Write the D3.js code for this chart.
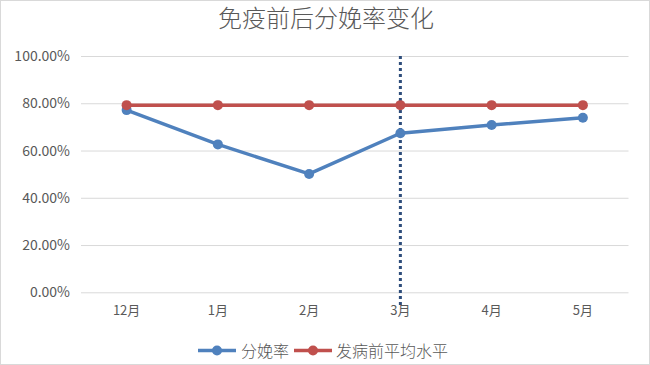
<!DOCTYPE html>
<html><head><meta charset="utf-8">
<script src="https://cdn.jsdelivr.net/npm/d3@7"></script>
<style>body{margin:0;background:#fff;}svg{display:block;}</style>
</head><body><svg id="c" width="650" height="365"></svg>
<script>
const categories = ["12月","1月","2月","3月","4月","5月"];
const birthRate = [0.771, 0.626, 0.501, 0.673, 0.708, 0.739];
const preAverage = [0.792, 0.792, 0.792, 0.792, 0.792, 0.792];
const yTicks = [0, 0.2, 0.4, 0.6, 0.8, 1.0];
const markerCategory = "3月";
const seriesNames = ["分娩率", "发病前平均水平"];
const colors = ["#4F81BD", "#C0504D"];

(function(){
const svg = d3.select("#c");
const font = "'Noto Sans CJK SC', 'Noto Sans', sans-serif";
svg.append("rect").attr("x",0.5).attr("y",0.5).attr("width",649).attr("height",364)
  .attr("fill","#fff").attr("stroke","#D9D9D9");

const pL = 81, pR = 628.5, pT = 56, pB = 292.3;
const x = d3.scaleBand().domain(categories).range([pL, pR]);
const y = d3.scaleLinear().domain([0, 1]).range([pB, pT]);
const cx = d => x(d) + x.bandwidth()/2;

svg.append("text").attr("x",326).attr("y",27).attr("text-anchor","middle")
  .attr("font-family",font).attr("font-weight",300).attr("font-size",24).attr("fill","#595959").text("免疫前后分娩率变化");

const yAxis = d3.axisLeft(y).tickValues(yTicks).tickFormat(d3.format(".2%")).tickSize(-(pR-pL)).tickPadding(11);
const gy = svg.append("g").attr("transform",`translate(${pL},0)`).call(yAxis);
gy.select(".domain").remove();
gy.selectAll(".tick line").attr("stroke","#D9D9D9").attr("stroke-width",1);
gy.selectAll(".tick text").attr("font-family",font).attr("font-size",14).attr("fill","#595959");

const xAxis = d3.axisBottom(x).tickSize(0).tickPadding(13);
const gx = svg.append("g").attr("transform",`translate(0,${pB})`).call(xAxis);
gx.select(".domain").remove();
gx.selectAll(".tick text").attr("font-family",font).attr("font-size",13).attr("fill","#595959");

svg.append("line").attr("x1",cx(markerCategory)).attr("x2",cx(markerCategory))
  .attr("y1",pT).attr("y2",pB+13)
  .attr("stroke","#2E4D7B").attr("stroke-width",3).attr("stroke-dasharray","3,3");

const line = d3.line().x((d,i)=>cx(categories[i])).y(d=>y(d));
[birthRate, preAverage].forEach((s,k)=>{
  svg.append("path").datum(s).attr("d",line).attr("fill","none")
    .attr("stroke",colors[k]).attr("stroke-width",3.5).attr("stroke-linejoin","round");
  svg.selectAll(null).data(s).enter().append("circle")
    .attr("cx",(d,i)=>cx(categories[i])).attr("cy",d=>y(d)).attr("r",5).attr("fill",colors[k]);
});

const leg = [{x:198, tx:241},{x:294, tx:336}];
seriesNames.forEach((n,k)=>{
  const g = svg.append("g");
  g.append("line").attr("x1",leg[k].x).attr("x2",leg[k].x+38).attr("y1",350.5).attr("y2",350.5)
    .attr("stroke",colors[k]).attr("stroke-width",3.5);
  g.append("circle").attr("cx",leg[k].x+19).attr("cy",350.5).attr("r",5).attr("fill",colors[k]);
  g.append("text").attr("x",leg[k].tx).attr("y",356.5).attr("font-family",font).attr("font-weight",300).attr("font-size",16)
    .attr("fill","#595959").text(n);
});
})();
</script></body></html>
